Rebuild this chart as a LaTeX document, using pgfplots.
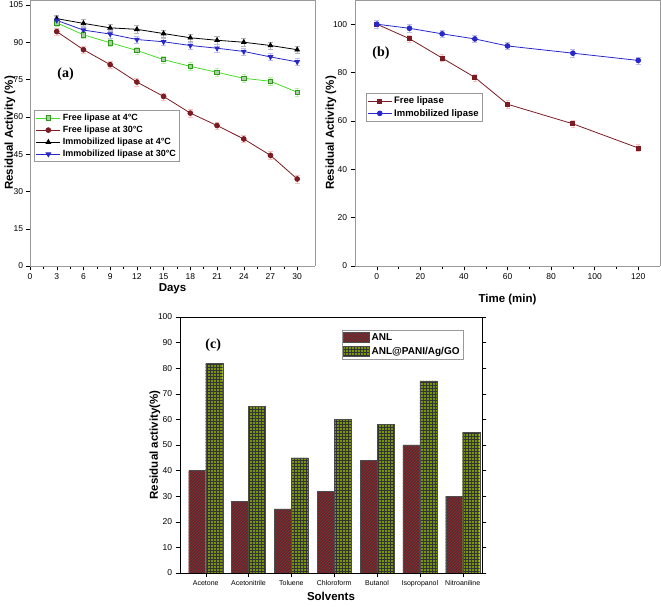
\documentclass[border=0pt]{standalone}
\usepackage{pgfplots}
\pgfplotsset{compat=1.18}
\usepackage{fontspec}
\setmainfont{Liberation Sans}
\newfontfamily\serifb{Liberation Serif}
\usetikzlibrary{patterns}
\definecolor{dred}{RGB}{122,28,34}
\definecolor{lgreen}{RGB}{70,220,40}
\definecolor{dblue}{RGB}{40,40,200}
\definecolor{bargreen}{RGB}{120,150,0}
\begin{document}
\begin{tikzpicture}
\useasboundingbox (0pt,0pt) rectangle (661pt,607pt);
\pgfplotsset{
  every axis/.append style={
    scale only axis,
    /pgf/number format/assume math mode=true,
    tick label style={font=\fontsize{8.5}{9}\selectfont},
    label style={font=\bfseries\fontsize{11.5}{13}\selectfont},
    tick align=outside,
    axis line style={black!40},
    every tick/.style={black},
    xtick pos=bottom, ytick pos=left,
    legend style={font=\bfseries\fontsize{9}{11}\selectfont, draw=black!40, row sep=0pt, inner sep=1.5pt},
    legend cell align=left,
    legend image code/.code={\draw[#1] (0pt,0pt) -- (12pt,0pt) -- (24pt,0pt); \draw[#1,only marks] plot coordinates {(12pt,0pt)};},
  },
  separate axis lines,
  every outer x axis line/.append style={black},
  every outer y axis line/.append style={black},
}
% ---------- panel (a)
\begin{axis}[at={(30pt,341pt)}, anchor=south west, width=285pt, height=266pt,
  xmin=0, xmax=32, ymin=0, ymax=107,
  xtick={0,3,...,30}, ytick={0,15,...,105},
  minor x tick num=1,
  xlabel={Days}, ylabel={Residual Activity (\%)},
  xlabel style={yshift=3pt}, ylabel style={yshift=-13pt},
  yticklabel style={xshift=1pt},
  legend style={at={(0.015,0.585)}, anchor=north west},
  error bars/y dir=both, error bars/y fixed=1.5,
]
\addplot[lgreen, thick, mark=square*, mark size=2.2pt, mark options={fill=lgreen!60!black!40!white, draw=lgreen!70!black},
  error bars/error bar style={lgreen!40}] coordinates {
(3,97.8)(6,93)(9,89.8)(12,86.7)(15,83)(18,80.3)(21,77.9)(24,75.5)(27,74.3)(30,69.9)};
\addlegendentry{Free lipase at 4°C}
\addplot[dred, thick, mark=*, mark size=2.4pt,
  error bars/error bar style={red!25}] coordinates {
(3,94.3)(6,87)(9,81)(12,74)(15,68.2)(18,61.5)(21,56.5)(24,51.1)(27,44.5)(30,35)};
\addlegendentry{Free lipase at 30°C}
\addplot[black, thick, mark=triangle*, mark size=2.6pt,
  error bars/error bar style={black!30}] coordinates {
(3,99.5)(6,97.6)(9,95.8)(12,95.2)(15,93.5)(18,91.8)(21,90.8)(24,90)(27,88.7)(30,87)};
\addlegendentry{Immobilized lipase at 4°C}
\addplot[dblue, thick, mark=triangle*, mark size=2.6pt, mark options={rotate=180},
  error bars/error bar style={dblue!30}] coordinates {
(3,98.8)(6,94.9)(9,93.3)(12,91.1)(15,90.2)(18,88.7)(21,87.6)(24,86.3)(27,84.1)(30,82.1)};
\addlegendentry{Immobilized lipase at 30°C}
\node[font=\serifb\bfseries\fontsize{14}{15}\selectfont] at (axis description cs:0.125,0.72) {(a)};
\end{axis}
% ---------- panel (b)
\begin{axis}[at={(355pt,341pt)}, anchor=south west, width=305pt, height=266pt,
  xmin=-10, xmax=130, ymin=0, ymax=110,
  xtick={0,20,...,120}, ytick={0,20,...,100},
  minor x tick num=1,
  xlabel={Time (min)}, ylabel={Residual Activity (\%)},
  xlabel style={yshift=-7pt}, ylabel style={yshift=-10pt},
  legend style={at={(0.035,0.65)}, anchor=north west, font=\bfseries\fontsize{9.5}{11}\selectfont},
  error bars/y dir=both, error bars/y fixed=1.5,
]
\addplot[dred, thick, mark=square*, mark size=2pt,
  error bars/error bar style={red!25}] coordinates {
(0,100)(15,94)(30,86)(45,78)(60,66.9)(90,58.8)(120,48.8)};
\addlegendentry{Free lipase}
\addplot[dblue, thick, mark=*, mark size=2.4pt,
  error bars/error bar style={dblue!30}] coordinates {
(0,100)(15,98.3)(30,96)(45,93.9)(60,91)(90,88)(120,85)};
\addlegendentry{Immobilized lipase}
\node[font=\serifb\bfseries\fontsize{14}{15}\selectfont] at (axis description cs:0.085,0.80) {(b)};
\end{axis}
% ---------- panel (c)
\begin{axis}[at={(180pt,34pt)}, anchor=south west, width=302pt, height=256pt,
  ybar=0pt, bar width=17pt,
  xmin=-0.6, xmax=6.45, ymin=0, ymax=100,
  xtick={0,...,6},
  xticklabels={Acetone,Acetonitrile,Toluene,Chloroform,Butanol,Isopropanol,Nitroaniline},
  x tick label style={font=\fontsize{7}{8}\selectfont},
  ytick={0,10,...,100}, ytick pos=both, xtick pos=bottom,
  xlabel={Solvents}, ylabel={Residual activity(\%)},
  ylabel style={yshift=-9pt}, xlabel style={yshift=2pt},
  axis line style={black},
  legend style={at={(0.535,0.95)}, anchor=north west, draw=black!40, font=\bfseries\fontsize{10}{12}\selectfont, row sep=1pt},
  legend image code/.code={\draw[#1] (0pt,-4.5pt) rectangle (26pt,5pt);},
]
\addplot[draw=black!70, fill=dred, postaction={pattern=north east lines, pattern color=black!70}]
 coordinates {(0,40)(1,28)(2,25)(3,32)(4,44)(5,50)(6,30)};
\addlegendentry{ANL}
\addplot[draw=black!70, fill=bargreen, postaction={pattern=grid, pattern color=black!80}]
 coordinates {(0,82)(1,65)(2,45)(3,60)(4,58)(5,75)(6,55)};
\addlegendentry{ANL@PANI/Ag/GO}
\node[font=\serifb\bfseries\fontsize{14}{15}\selectfont] at (axis description cs:0.11,0.89) {(c)};
\end{axis}
\end{tikzpicture}
\end{document}
